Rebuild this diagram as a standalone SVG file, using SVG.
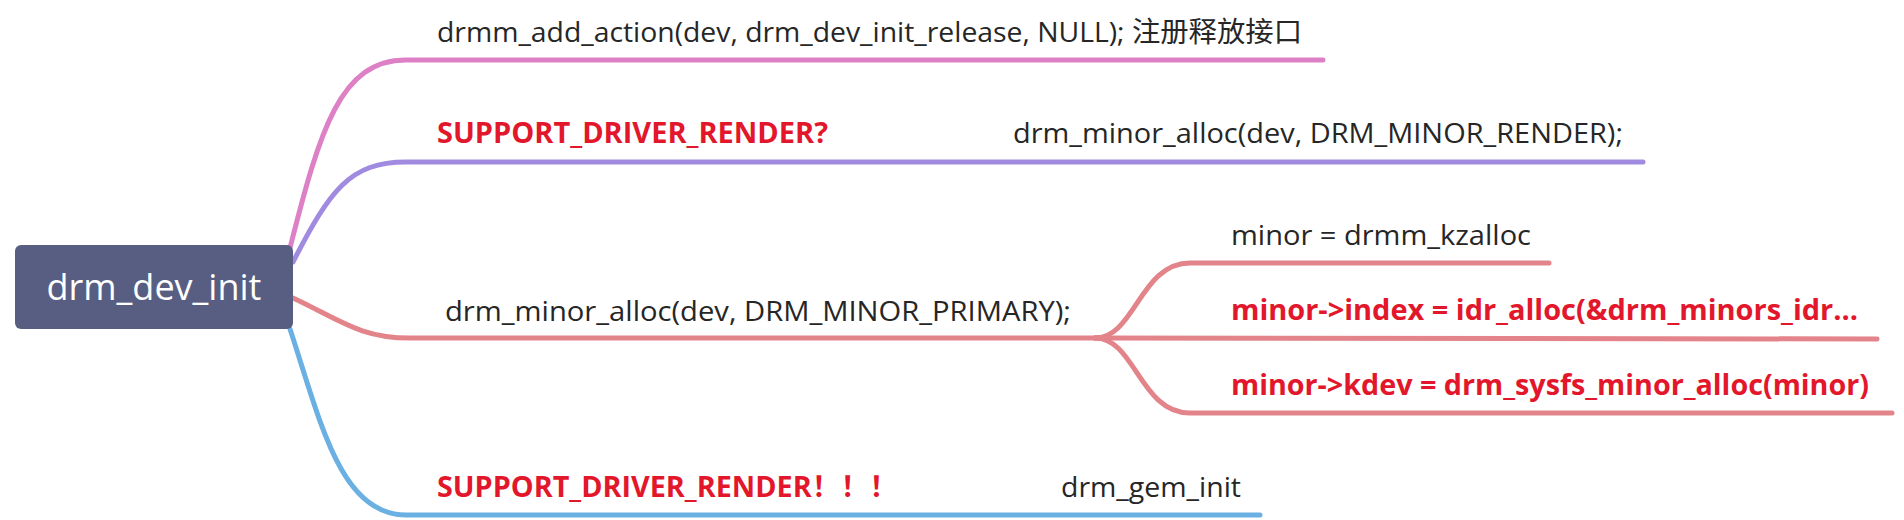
<svg xmlns="http://www.w3.org/2000/svg" width="1904" height="520" viewBox="0 0 1904 520">
<style>
.t{font-family:"Open Sans","Noto Sans CJK SC",sans-serif;font-size:28px;fill:#262626}
.b{font-family:"Open Sans","Noto Sans CJK SC",sans-serif;font-size:28px;font-weight:bold;fill:#e3172b}
.c{fill:none;stroke-width:5;stroke-linecap:round}
.pk{stroke:#dd80c6}.pu{stroke:#a08be0}.rd{stroke:#e2848a}.bl{stroke:#6bb0e2}
</style>
<rect width="1904" height="520" fill="#ffffff"/>
<g id="connectors">
<path class="c pk" d="M290,248 C320,130 340,60 406,60 L1323,60"/>
<path class="c pu" d="M293,262 C330,190 350,162 406,162 L1643,162"/>
<path class="c rd" d="M293,298 C340,320 360,338 410,338 L1098,338"/>
<path class="c rd" d="M1095,338 C1135,338 1140,263 1190,263 L1549,263"/>
<path class="c rd" d="M1095,338 L1877,339"/>
<path class="c rd" d="M1095,338 C1135,338 1140,413 1190,413 L1892,413"/>
<path class="c bl" d="M290,329 C320,420 340,515 406,515 L1260,515"/>
</g>
<g id="root">
<rect x="15" y="245" width="278" height="84" rx="6" fill="#585e82"/>
<text x="154" y="300" text-anchor="middle" font-family="Open Sans, sans-serif" font-size="36" fill="#ffffff">drm_dev_init</text>
</g>
<g id="n1"><text class="t" x="437" y="42" textLength="865" lengthAdjust="spacingAndGlyphs">drmm_add_action(dev, drm_dev_init_release, NULL); 注册释放接口</text></g>
<g id="n2"><text class="b" x="437" y="143" textLength="391" lengthAdjust="spacingAndGlyphs">SUPPORT_DRIVER_RENDER?</text></g>
<g id="n2a"><text class="t" x="1013" y="143" textLength="610" lengthAdjust="spacingAndGlyphs">drm_minor_alloc(dev, DRM_MINOR_RENDER);</text></g>
<g id="n3"><text class="t" x="445" y="321" textLength="626" lengthAdjust="spacingAndGlyphs">drm_minor_alloc(dev, DRM_MINOR_PRIMARY);</text></g>
<g id="n3a"><text class="t" x="1231" y="245" textLength="300" lengthAdjust="spacingAndGlyphs">minor = drmm_kzalloc</text></g>
<g id="n3b"><text class="b" x="1231" y="320" textLength="627" lengthAdjust="spacingAndGlyphs">minor-&gt;index = idr_alloc(&amp;drm_minors_idr...</text></g>
<g id="n3c"><text class="b" x="1231" y="395" textLength="638" lengthAdjust="spacingAndGlyphs">minor-&gt;kdev = drm_sysfs_minor_alloc(minor)</text></g>
<g id="n4"><text class="b" x="437" y="497" textLength="461" lengthAdjust="spacingAndGlyphs">SUPPORT_DRIVER_RENDER！！！</text></g>
<g id="n4a"><text class="t" x="1061" y="497" textLength="180" lengthAdjust="spacingAndGlyphs">drm_gem_init</text></g>
</svg>
